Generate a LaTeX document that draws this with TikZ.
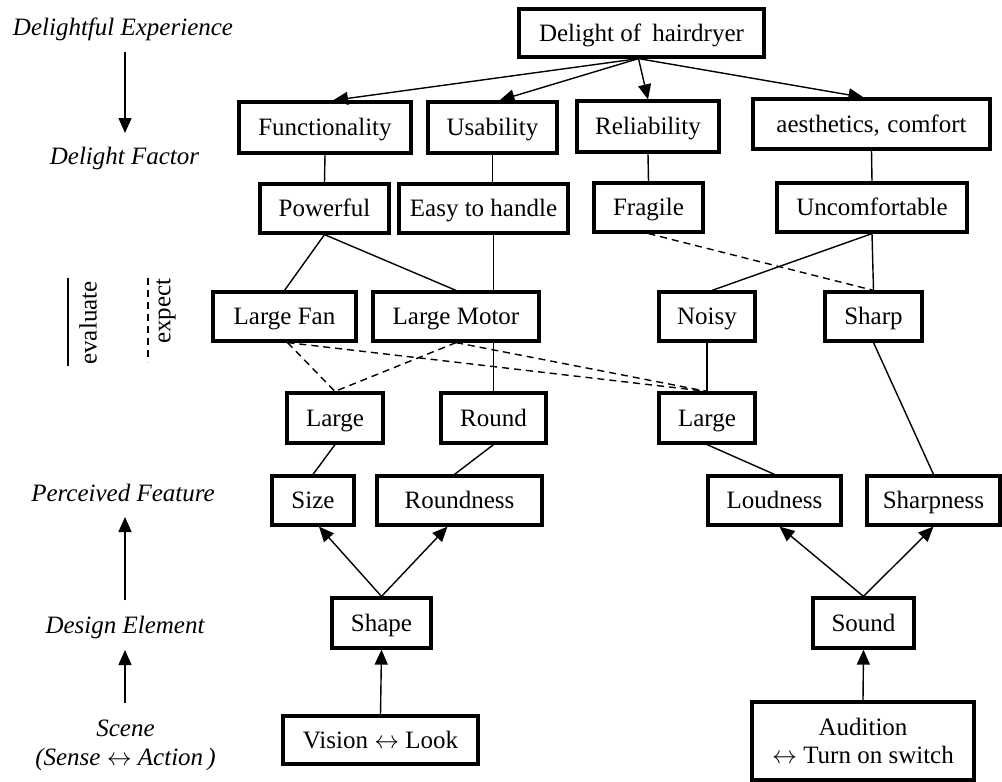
\documentclass[tikz,border=0pt]{standalone}
\usepackage{fontspec}
\setmainfont{Liberation Serif}
\usetikzlibrary{arrows.meta,calc}
\begin{document}
\begin{tikzpicture}[x=1pt,y=-1pt,
  font=\fontsize{25}{30}\selectfont,
  box/.style={draw, line width=3.2pt, inner sep=0pt, minimum height=49pt, align=center, text height=21pt, text depth=5pt},
  conn/.style={line width=1.4pt},
  dconn/.style={line width=1.4pt, dash pattern=on 7pt off 5pt},
  arr/.style={line width=1.4pt, -{Triangle[length=15pt,width=13pt]}},
  lab/.style={font=\fontsize{25}{29}\selectfont\itshape, inner sep=0pt}
]
\useasboundingbox (0,0) rectangle (1002,782);

% left column labels
\node[lab] (lexp) at (123,29) {Delightful Experience};
\node[lab] (lfac) at (124.5,158) {Delight Factor};
\node[lab] (lper) at (123,493) {Perceived Feature};
\node[lab] (ldes) at (125,627) {Design Element};
\node[lab, align=center] (lsce) at (125.5,745) {Scene\\(Sense $\leftrightarrow$ Action\,)};
\coordinate (a1s) at (125,52);  \coordinate (a1e) at (125,133);
\coordinate (a2s) at (125,600); \coordinate (a2e) at (125,517);
\coordinate (a3s) at (125,703); \coordinate (a3e) at (125,650);
\draw[arr] (a1s) -- (a1e);
\draw[arr] (a2s) -- (a2e);
\draw[arr] (a3s) -- (a3e);

\coordinate (ev1) at (68,278); \coordinate (ev2) at (68,366);
\coordinate (ex1) at (148,278); \coordinate (ex2) at (148,362);
\draw[conn] (ev1) -- (ev2);
\draw[dconn] (ex1) -- (ex2);
\node[rotate=90, inner sep=0pt] (teval) at (88,323) {evaluate};
\node[rotate=90, inner sep=0pt] (texp) at (166,311) {expect};

% nodes
\node[box, minimum width=245pt, minimum height=48pt] (delight) at (641.5,33) {Delight of\hspace{0.45em}hairdryer};

\node[box, minimum width=172pt, minimum height=51pt] (func) at (325,127.5) {Functionality};
\node[box, minimum width=129pt, minimum height=51pt] (usab) at (492.5,127.5) {Usability};
\node[box, minimum width=142pt, minimum height=51pt] (relia) at (648,126.5) {Reliability};
\node[box, minimum width=237pt, minimum height=50pt] (aest) at (871.5,124) {aesthetics,\hspace{0.3em}comfort};

\node[box, minimum width=129pt] (power) at (324.5,208.5) {Powerful};
\node[box, minimum width=169pt] (easy) at (483.5,208.5) {Easy to handle};
\node[box, minimum width=109pt] (fragile) at (648.5,207.5) {Fragile};
\node[box, minimum width=190pt] (uncomf) at (872,207.5) {Uncomfortable};

\node[box, minimum width=143pt] (lfan) at (284.5,316.5) {Large Fan};
\node[box, minimum width=166pt] (lmotor) at (456,316.5) {Large Motor};
\node[box, minimum width=96pt] (noisy) at (707,316.5) {Noisy};
\node[box, minimum width=97pt] (sharp) at (873.5,316.5) {Sharp};

\node[box, minimum width=96pt, minimum height=50pt] (largeL) at (335,418) {Large};
\node[box, minimum width=105pt, minimum height=50pt] (round) at (493.5,418) {Round};
\node[box, minimum width=96pt, minimum height=50pt] (largeR) at (707,418) {Large};

\node[box, minimum width=82pt] (size) at (313,500.5) {Size};
\node[box, minimum width=165pt] (roundness) at (459.5,500.5) {Roundness};
\node[box, minimum width=133pt] (loud) at (774.5,500.5) {Loudness};
\node[box, minimum width=133pt] (sharpness) at (933.5,500.5) {Sharpness};

\node[box, minimum width=99pt, minimum height=50pt] (shape) at (381.5,623) {Shape};
\node[box, minimum width=101pt, minimum height=50pt] (sound) at (863.5,623) {Sound};

\node[box, minimum width=195pt, minimum height=48pt] (vision) at (380.5,740) {Vision $\leftrightarrow$ Look};
\node[box, minimum width=222pt, minimum height=78pt, text height=, text depth=] (audition) at (863,741) {Audition\\[-2pt]$\leftrightarrow$ Turn on switch};

% top arrows
\coordinate (dsrc) at ($(delight.south)+(-3,0)$);
\draw[arr] (dsrc) -- ($(func.north)+(8,0)$);
\draw[arr] (dsrc) -- ($(usab.north)+(7,0)$);
\draw[arr] (dsrc) -- (relia.north);
\draw[arr] (dsrc) -- ($(aest.north)+(-8,0)$);

% factor -> expectation
\draw[conn] (func.south) -- (power.north);
\draw[conn] (usab.south) -- (easy.north -| usab.south);
\draw[conn] (relia.south) -- (fragile.north);
\draw[conn] (aest.south) -- (uncomf.north);

% expectation -> evaluation
\draw[conn] (power.south) -- (lfan.north);
\draw[conn] (power.south) -- (lmotor.north);
\draw[conn] (easy.south -| round.north) -- (lmotor.north -| round.north);
\draw[dconn] (fragile.south) -- (sharp.north);
\draw[conn] (uncomf.south) -- ($(noisy.north)+(5,0)$);
\draw[conn] (uncomf.south) -- (sharp.north);

% evaluation -> features
\draw[dconn] ($(lfan.south)+(3,0)$) -- (largeL.north);
\draw[dconn] ($(lfan.south)+(3,0)$) -- (largeR.north);
\draw[dconn] (lmotor.south) -- (largeL.north);
\draw[dconn] (lmotor.south) -- (largeR.north);
\draw[conn] (lmotor.south -| round.north) -- (round.north);
\draw[conn] (noisy.south) -- (largeR.north);
\draw[conn] (sharp.south) -- (sharpness.north);

\draw[conn] (largeL.south) -- (size.north);
\draw[conn] (round.south) -- ($(roundness.north)+(-5,0)$);
\draw[conn] (largeR.south) -- (loud.north);

% design elements
\draw[arr] (shape.north) -- ($(size.south)+(6,0)$);
\draw[arr] (shape.north) -- ($(roundness.south)+(-12,0)$);
\draw[arr] (sound.north) -- ($(loud.south)+(5,0)$);
\draw[arr] (sound.north) -- (sharpness.south);
\draw[arr] (vision.north) -- (shape.south);
\draw[arr] (audition.north) -- (sound.south);
\end{tikzpicture}
\end{document}
